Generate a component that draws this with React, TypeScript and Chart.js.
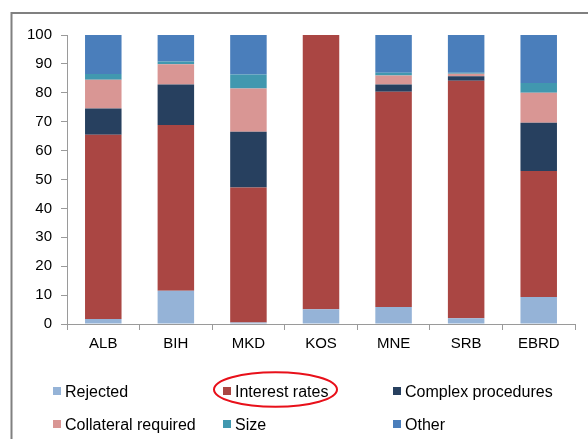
import React, { useEffect, useRef } from "react";
import { Chart, registerables } from "chart.js";

Chart.register(...registerables);

const categories = ["ALB", "BIH", "MKD", "KOS", "MNE", "SRB", "EBRD"];
const rejected = [1.7, 11.5, 0.5, 5.1, 5.9, 2.0, 9.3];
const interestRates = [63.8, 57.4, 46.7, 94.9, 74.5, 82.2, 43.6];
const complexProcedures = [9.1, 14.0, 19.3, 0, 2.5, 1.5, 16.7];
const collateralRequired = [9.9, 7.0, 15.0, 0, 3.1, 0.9, 10.4];
const size = [2.0, 0.9, 4.8, 0, 0.9, 0.3, 3.4];
const other = [13.5, 9.2, 13.7, 0, 13.1, 13.1, 16.6];

const seriesLabels = ["Rejected", "Interest rates", "Complex procedures", "Collateral required", "Size", "Other"];
const seriesColors = ["#95B3D7", "#AA4643", "#27405F", "#D99694", "#4198AF", "#4A7EBB"];
const seriesValues = [rejected, interestRates, complexProcedures, collateralRequired, size, other];

const FONT = "'Liberation Sans', Arial, sans-serif";

const decorPlugin = {
  id: "decor",
  afterDraw(chart: any) {
    const ctx = chart.ctx as CanvasRenderingContext2D;
    ctx.save();
    // frame
    ctx.strokeStyle = "#808080";
    ctx.lineWidth = 2;
    ctx.beginPath();
    ctx.moveTo(11.5, 439);
    ctx.lineTo(11.5, 13);
    ctx.lineTo(588, 13);
    ctx.stroke();
    // legend
    ctx.font = `16px ${FONT}`;
    ctx.textBaseline = "alphabetic";
    ctx.textAlign = "left";
    chart.data.datasets.forEach((ds: any, i: number) => {
      const col = i % 3;
      const row = Math.floor(i / 3);
      const tx = 65 + col * 170;
      const base = row === 0 ? 397 : 430;
      ctx.fillStyle = ds.backgroundColor;
      ctx.fillRect(tx - 12, base - 10, 8, 8);
      ctx.fillStyle = "#000";
      ctx.fillText(ds.label, tx, base);
    });
    // highlight ellipse
    ctx.strokeStyle = "#E8101A";
    ctx.lineWidth = 2;
    ctx.beginPath();
    ctx.ellipse(275.5, 389.5, 61.5, 17.3, 0, 0, Math.PI * 2);
    ctx.stroke();
    ctx.restore();
  },
};

export default function App() {
  const ref = useRef<HTMLCanvasElement>(null);
  useEffect(() => {
    if (!ref.current) return;
    const chart = new Chart(ref.current, {
      type: "bar",
      data: {
        labels: categories,
        datasets: seriesLabels.map((label, i) => ({
          label,
          data: seriesValues[i],
          backgroundColor: seriesColors[i],
          borderWidth: 0,
          barPercentage: 0.503,
          categoryPercentage: 1,
        })),
      },
      options: {
        animation: false,
        responsive: false,
        devicePixelRatio: 1,
        layout: { padding: { left: 0, right: 13, top: 35, bottom: 0 } },
        plugins: { legend: { display: false }, tooltip: { enabled: false } },
        scales: {
          x: {
            stacked: true,
            grid: { display: true, drawOnChartArea: false, drawTicks: true, tickLength: 6, color: "#9A9A9A", offset: true },
            border: { display: true, color: "#9A9A9A", width: 1 },
            ticks: { color: "#000", font: { family: FONT, size: 15 }, padding: 5, maxRotation: 0 },
            afterFit: (s: any) => { s.height = 115; },
          },
          y: {
            stacked: true,
            min: 0,
            max: 100,
            grid: { display: true, drawOnChartArea: false, drawTicks: true, tickLength: 6, color: "#9A9A9A" },
            border: { display: true, color: "#9A9A9A", width: 1 },
            ticks: { stepSize: 10, color: "#000", font: { family: FONT, size: 15 }, padding: 9 },
            afterFit: (s: any) => { s.width = 67; },
          },
        },
      },
      plugins: [decorPlugin],
    });
    return () => chart.destroy();
  }, []);
  return (
    <div style={{ position: "absolute", left: 0, top: 0, width: 588, height: 439, background: "#fff" }}>
      <canvas ref={ref} width={588} height={439} />
    </div>
  );
}
